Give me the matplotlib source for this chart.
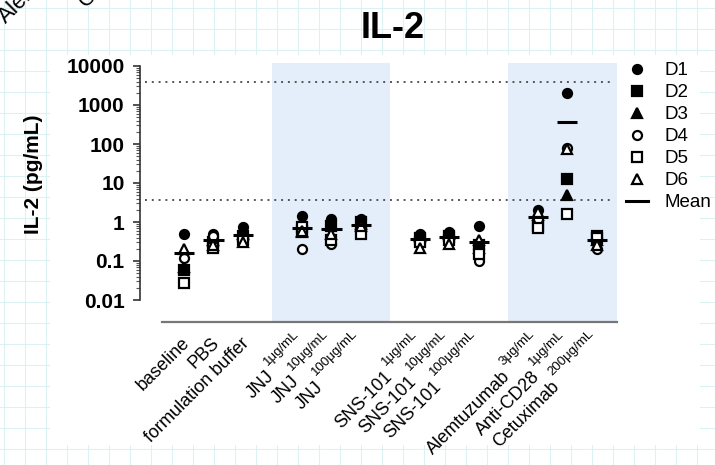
import matplotlib
matplotlib.use("Agg")
import matplotlib.pyplot as plt
import numpy as np
from matplotlib.lines import Line2D
from matplotlib.patches import Rectangle
from matplotlib.ticker import FixedLocator, NullFormatter

plt.rcParams['font.family'] = ['Liberation Sans', 'DejaVu Sans']

# treatment groups: (name, concentration) and their x slots (gap between groups)
names = ['baseline', 'PBS', 'formulation buffer',
         'JNJ', 'JNJ', 'JNJ',
         'SNS-101', 'SNS-101', 'SNS-101',
         'Alemtuzumab', 'Anti-CD28', 'Cetuximab']
concs = ['', '', '',
         '1μg/mL', '10μg/mL', '100μg/mL',
         '1μg/mL', '10μg/mL', '100μg/mL',
         '3μg/mL', '1μg/mL', '200μg/mL']
xpos = [0, 1, 2, 4, 5, 6, 8, 9, 10, 12, 13, 14]

# IL-2 (pg/mL) per donor, one value per group
D1 = [0.5, 0.5, 0.75, 1.4, 1.2, 1.2, 0.5, 0.55, 0.8, 2.0, 2000, 0.4]
D2 = [0.06, 0.3, 0.45, 0.6, 0.8, 1.0, 0.4, 0.45, 0.25, 0.8, 13, 0.45]
D3 = [0.07, 0.35, 0.5, 0.55, 0.9, 0.9, 0.45, 0.5, 0.22, 1.5, 5, 0.35]
D4 = [0.12, 0.45, 0.4, 0.2, 0.27, 0.7, 0.35, 0.3, 0.1, 1.2, 80, 0.2]
D5 = [0.027, 0.22, 0.35, 0.75, 0.35, 0.5, 0.3, 0.35, 0.15, 0.7, 1.6, 0.4]
D6 = [0.2, 0.25, 0.3, 0.6, 0.5, 0.8, 0.22, 0.28, 0.35, 1.8, 75, 0.25]

# assay limits (dotted lines)
lloq = 3.7
uloq = 3800

donors = [('D1', D1, 'o', 'k'), ('D2', D2, 's', 'k'), ('D3', D3, '^', 'k'),
          ('D4', D4, 'o', 'w'), ('D5', D5, 's', 'w'), ('D6', D6, '^', 'w')]

W, H = 715, 465
fig = plt.figure(figsize=(W / 100, H / 100), dpi=100)

# graph-paper backdrop with the chart pasted over it
for gx in np.arange(4, W, 21):
    fig.add_artist(Line2D([gx / W, gx / W], [0, 1], color='#dcf2f2', lw=0.8, zorder=-5))
for gy in np.arange(8, H, 21):
    fig.add_artist(Line2D([0, 1], [1 - gy / H, 1 - gy / H], color='#dcf2f2', lw=0.8, zorder=-5))
fig.add_artist(Rectangle((50 / W, 1 - 445 / H), 650 / W, 390 / H,
                         facecolor='white', edgecolor='none', zorder=-4))

# cut-off labels of the panel above
fig.text(6 / W, 1 - 24 / H, 'Alemtuzumab', rotation=45, rotation_mode='anchor',
         ha='left', va='baseline', fontsize=16)
fig.text(86 / W, 1 - 8 / H, 'Cetuximab', rotation=45, rotation_mode='anchor',
         ha='left', va='baseline', fontsize=16)

ax = fig.add_axes([162 / W, 1 - 322 / H, 455 / W, 259 / H])
ax.patch.set_alpha(0)
ax.set_yscale('log')
ax.set_xlim(-0.746, 14.68)
ax.set_ylim(10 ** (-100 / 39), 10 ** (159 / 39))

ax.axvspan(3, 7, color='#e3eefa', zorder=0, lw=0)
ax.axvspan(11, 15, color='#e3eefa', zorder=0, lw=0)

for yv in (lloq, uloq):
    ax.hlines(yv, -1.32, 14.55, colors='#555555', linestyles=(0, (1, 2.5)), lw=1.4,
              clip_on=False, zorder=1)

for lab, vals, mk, fc in donors:
    ax.plot(xpos, vals, ls='none', marker=mk, ms=6.5, mfc=fc, mec='k', mew=1.6,
            zorder=3)

means = np.mean([D1, D2, D3, D4, D5, D6], axis=0)
ax.hlines(means, np.array(xpos) - 0.34, np.array(xpos) + 0.34, colors='k', lw=2.2, zorder=4)

# axes styling
for s in ('top', 'right'):
    ax.spines[s].set_visible(False)
ax.spines['left'].set_position(('outward', 22 * 0.72))
ax.spines['left'].set_bounds(0.01, 10000)
ax.spines['left'].set_color('#333333')
ax.spines['left'].set_linewidth(1.2)
ax.spines['bottom'].set_color('#777777')
ax.spines['bottom'].set_linewidth(1.6)

yt = [0.01, 0.1, 1, 10, 100, 1000, 10000]
ax.set_yticks(yt, ['0.01', '0.1', '1', '10', '100', '1000', '10000'],
              fontsize=15, fontweight='bold')
minors = [m * 10.0 ** e for e in range(-2, 4) for m in range(2, 10)]
ax.yaxis.set_minor_locator(FixedLocator(minors))
ax.yaxis.set_minor_formatter(NullFormatter())
ax.tick_params(axis='y', which='major', length=5, width=1.2, color='#333333', pad=6)
ax.tick_params(axis='y', which='minor', length=3, width=0.8, color='#555555')

# x labels: large group name with a small raised concentration at its end
ax.set_xticks(xpos, [])
ax.tick_params(axis='x', length=0)
renderer = fig.canvas.get_renderer()
c45 = np.cos(np.radians(45))
pad = 9
small = 9.5
lift = 4  # raise of the concentration text, perpendicular to the label
for x, n, c in zip(xpos, names, concs):
    shift = 0
    if c:
        t = fig.text(0, 0, c, fontsize=small)
        shift = t.get_window_extent(renderer).width * 72 / 100 + 2
        t.remove()
        ax.annotate(c, (x, 0), xycoords=ax.get_xaxis_transform(),
                    xytext=(-4 - lift * c45, -pad + 2 + lift * c45),
                    textcoords='offset points',
                    rotation=45, rotation_mode='anchor', ha='right', va='top',
                    fontsize=small, annotation_clip=False)
    ax.annotate(n, (x, 0), xycoords=ax.get_xaxis_transform(),
                xytext=(-shift * c45 - 2, -pad - shift * c45), textcoords='offset points',
                rotation=45, rotation_mode='anchor', ha='right', va='top',
                fontsize=13, annotation_clip=False)

ax.set_ylabel('IL-2 (pg/mL)', fontsize=15, fontweight='bold')
ax.yaxis.set_label_coords((43 - 162) / 455, (322 - 174) / 259)

fig.text(393 / W, 1 - 29 / H, 'IL-2', ha='center', va='center', fontsize=26,
         fontweight='bold')

handles = [Line2D([], [], ls='none', marker=mk, ms=6.5, mfc=fc, mec='k', mew=1.6,
                  label=lab) for lab, vals, mk, fc in donors]
handles.append(Line2D([], [], color='k', lw=2.2, label='Mean'))
ax.legend(handles=handles, loc='upper left', bbox_to_anchor=(626 / W, 1 - 62 / H),
          bbox_transform=fig.transFigure, frameon=False, fontsize=13.5,
          handlelength=1.15, handletextpad=0.9, labelspacing=0.26,
          borderpad=0, borderaxespad=0)

fig.savefig('out.png', dpi=100)
